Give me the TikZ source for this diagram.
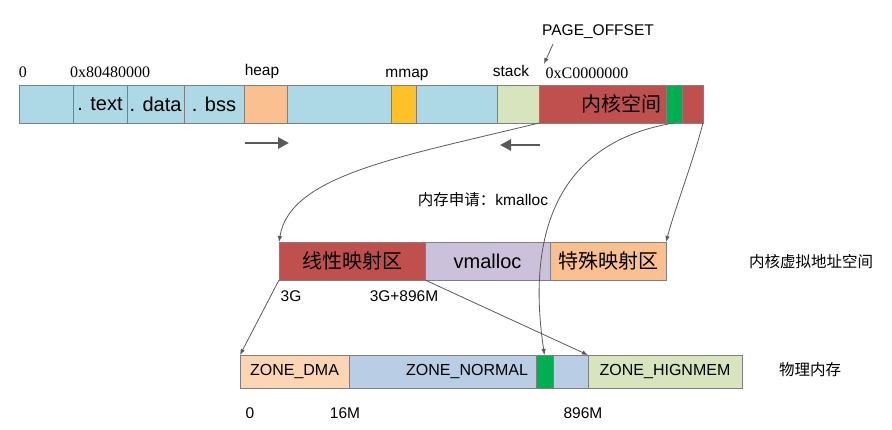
\documentclass[tikz,border=0pt]{standalone}
\usepackage{fontspec}
\setmainfont{Liberation Sans}
\newfontfamily\cjk{Noto Sans CJK SC}
\newfontfamily\addrfont{Liberation Serif}
\usetikzlibrary{positioning}
\usetikzlibrary{arrows.meta}
\definecolor{edgegray}{RGB}{127,127,127}
\definecolor{linkgray}{RGB}{89,89,89}
\definecolor{cellblue}{RGB}{173,216,230}
\definecolor{heapcol}{RGB}{250,192,144}
\definecolor{mmapcol}{RGB}{255,192,40}
\definecolor{stackcol}{RGB}{215,228,189}
\definecolor{kernred}{RGB}{192,80,77}
\definecolor{kerngreen}{RGB}{0,176,80}
\definecolor{vmcol}{RGB}{204,193,218}
\definecolor{dmacol}{RGB}{252,213,181}
\definecolor{normalcol}{RGB}{185,205,229}
\definecolor{highcol}{RGB}{215,228,189}

\begin{document}
\begin{tikzpicture}[x=1pt, y=-1pt, node distance=0pt,
seg/.style={draw=edgegray, fill=#1, inner sep=0pt, outer sep=0pt, minimum height=38pt, font=\fontsize{20}{22}\selectfont},
zone/.style={draw=edgegray, fill=#1, inner sep=0pt, outer sep=0pt, minimum height=33pt, font=\fontsize{16}{18}\selectfont},
lbl/.style={inner sep=0pt, font=\fontsize{15.5}{17}\selectfont},
link/.style={draw=linkgray, line width=0.8pt, -{Latex[length=6pt,width=4.5pt]}},
growarrow/.style={draw=linkgray, line width=2.8pt, -{Triangle[length=11pt,width=11pt]}}]
\useasboundingbox (0,0) rectangle (892,429);

% user space
\node[seg=cellblue, minimum width=54pt, anchor=north west] (u0) at (19,85) {};
\node[seg=cellblue, minimum width=54pt, right=of u0] (utext) {. text};
\node[seg=cellblue, minimum width=57pt, right=of utext] (udata) {. data};
\node[seg=cellblue, minimum width=60pt, right=of udata] (ubss) {. bss};
\node[seg=heapcol, minimum width=43pt, right=of ubss] (uheap) {};
\node[seg=cellblue, minimum width=104pt, right=of uheap] (ugap) {};
\node[seg=mmapcol, minimum width=25pt, right=of ugap] (ummap) {};
\node[seg=cellblue, minimum width=81pt, right=of ummap] (ugap2) {};
\node[seg=stackcol, minimum width=42pt, right=of ugap2] (ustack) {};
% kernel space
\node[seg=kernred, minimum width=127pt, text width=118pt, align=right, right=of ustack] (ukernel) {\cjk 内核空间};
\node[seg=kerngreen, minimum width=16pt, right=of ukernel] (ukgreen) {};
\node[seg=kernred, minimum width=21pt, right=of ukgreen] (ukend) {};

% labels above
\node[lbl, font=\addrfont\fontsize{16}{18}\selectfont] (zero) at (23,72) {0};
\node[lbl, font=\addrfont\fontsize{16}{18}\selectfont] (textaddr) at (110,72) {0x80480000};
\node[lbl] (heaplbl) at (262,71) {heap};
\node[lbl] (mmaplbl) at (407,75) {mmap};
\node[lbl] (stacklbl) at (511,71) {stack};
\node[lbl, font=\addrfont\fontsize{16}{18}\selectfont] (kaddr) at (587,73) {0xC0000000};
\node[lbl] (page) at (598,32) {PAGE\_OFFSET};
\coordinate (pgtip) at (544,64);
\draw[link] ([xshift=11pt,yshift=-5pt]page.south west) -- (pgtip);

% growth directions
\coordinate (heapgrow) at (245,143);
\coordinate (stackgrow) at (540,145);
\draw[growarrow] (heapgrow) -- ++(44,0);
\draw[growarrow] (stackgrow) -- ++(-40,0);

% kernel virtual space
\node[seg=kernred, minimum width=146pt, anchor=north west] (vlinear) at (279,242) {\cjk 线性映射区};
\node[seg=vmcol, minimum width=125pt, right=of vlinear] (vmalloc) {vmalloc};
\node[seg=heapcol, minimum width=116pt, right=of vmalloc] (vspecial) {\cjk 特殊映射区};
\node[lbl, font=\cjk\fontsize{15.5}{17}\selectfont] (vtitle) at (811,262) {内核虚拟地址空间};
\node[lbl] (kmalloc) at (483,200) {{\cjk 内存申请：}kmalloc};
\node[lbl] (g3) at (291,296) {3G};
\node[lbl] (g3m) at (404,296) {3G+896M};

% physical memory
\node[zone=dmacol, minimum width=109pt, anchor=north west] (zdma) at (240,355) {ZONE\_DMA};
\node[zone=normalcol, minimum width=187pt, text width=171pt, align=right, right=of zdma] (znormal) {ZONE\_NORMAL};
\node[zone=kerngreen, minimum width=17pt, right=of znormal] (zgreen) {};
\node[zone=normalcol, minimum width=35pt, right=of zgreen] (zrest) {};
\node[zone=highcol, minimum width=154pt, right=of zrest] (zhigh) {ZONE\_HIGNMEM};
\node[lbl, font=\cjk\fontsize{15.5}{17}\selectfont] (ptitle) at (810,370) {物理内存};
\node[lbl] (p0) at (250,413) {0};
\node[lbl] (p16) at (345,413) {16M};
\node[lbl] (p896) at (583,413) {896M};

% mappings
\draw[link] (ukernel.south west) .. controls (400,157) and (290,175) .. (vlinear.north west);
\draw[link] (ukgreen.south) .. controls (540,145) and (530,260) .. (zgreen.north);
\draw[link] (ukend.south east) .. controls (692,165) and (676,205) .. (vspecial.north east);
\draw[link] (vlinear.south west) -- (zdma.north west);
\draw[link] (vmalloc.south west) -- (zhigh.north west);
\end{tikzpicture}
\end{document}
